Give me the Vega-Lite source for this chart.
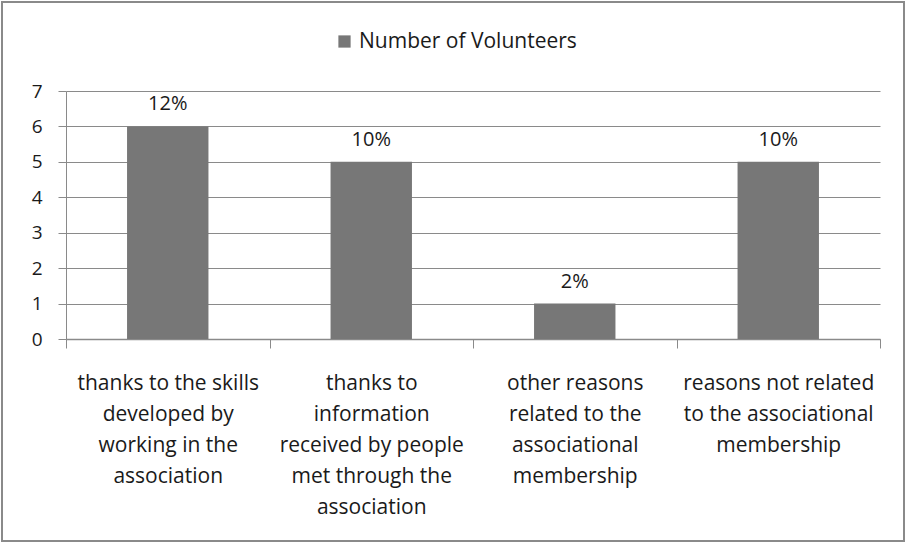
{
  "$schema": "https://vega.github.io/schema/vega-lite/v6.json",
  "width": 902,
  "height": 539,
  "padding": 2,
  "autosize": {"type": "none"},
  "background": "white",
  "config": {
    "view": {"stroke": "#8a8a8a", "strokeWidth": 2},
    "font": "Open Sans",
    "axis": {"labelFont": "Open Sans", "labelColor": "#1a1a1a", "labelFontSize": 21}
  },
  "data": {
    "values": [
      {"reason": "thanks to the skills\ndeveloped by\nworking in the\nassociation", "volunteers": 6, "pct": "12%", "series": "Number of Volunteers"},
      {"reason": "thanks to\ninformation\nreceived by people\nmet through the\nassociation", "volunteers": 5, "pct": "10%", "series": "Number of Volunteers"},
      {"reason": "other reasons\nrelated to the\nassociational\nmembership", "volunteers": 1, "pct": "2%", "series": "Number of Volunteers"},
      {"reason": "reasons not related\nto the associational\nmembership", "volunteers": 5, "pct": "10%", "series": "Number of Volunteers"}
    ]
  },
  "encoding": {
    "x": {
      "field": "reason", "type": "nominal", "sort": null,
      "scale": {"range": [64, 878], "paddingInner": 0, "paddingOuter": 0},
      "axis": {
        "title": null, "labelAngle": 0, "orient": "bottom", "offset": -202,
        "tickBand": "extent", "tickSize": 9, "tickColor": "#8a8a8a",
        "domainColor": "#8a8a8a", "domainWidth": 1.5,
        "labelExpr": "split(datum.label, '\\n')", "labelLineHeight": 31,
        "labelPadding": 24, "labelBaseline": "top", "grid": false,
        "labelLimit": 300, "labelOverlap": false
      }
    },
    "y": {
      "field": "volunteers", "type": "quantitative",
      "scale": {"domain": [0, 7], "range": [337, 89], "nice": false},
      "axis": {
        "title": null, "orient": "left", "offset": -64,
        "values": [0, 1, 2, 3, 4, 5, 6, 7], "labelOverlap": false,
        "grid": true, "gridColor": "#8a8a8a", "gridWidth": 1,
        "tickColor": "#8a8a8a", "tickSize": 8, "domainColor": "#8a8a8a",
        "labelPadding": 16, "labelAlign": "right", "labelFontSize": 19
      }
    }
  },
  "layer": [
    {
      "mark": {"type": "bar", "width": {"band": 0.4}, "clip": false},
      "encoding": {
        "color": {
          "field": "series", "type": "nominal",
          "scale": {"range": ["#777777"]},
          "legend": {
            "title": null, "orient": "none", "legendX": 332, "legendY": 29,
            "symbolType": "square", "symbolSize": 150, "symbolStrokeWidth": 0,
            "labelFontSize": 21, "labelFont": "Open Sans", "labelColor": "#1a1a1a",
            "labelLimit": 400
          }
        }
      }
    },
    {
      "mark": {"type": "text", "baseline": "bottom", "dy": -12, "fontSize": 20, "font": "Open Sans", "color": "#1a1a1a"},
      "encoding": {"text": {"field": "pct"}}
    }
  ]
}
